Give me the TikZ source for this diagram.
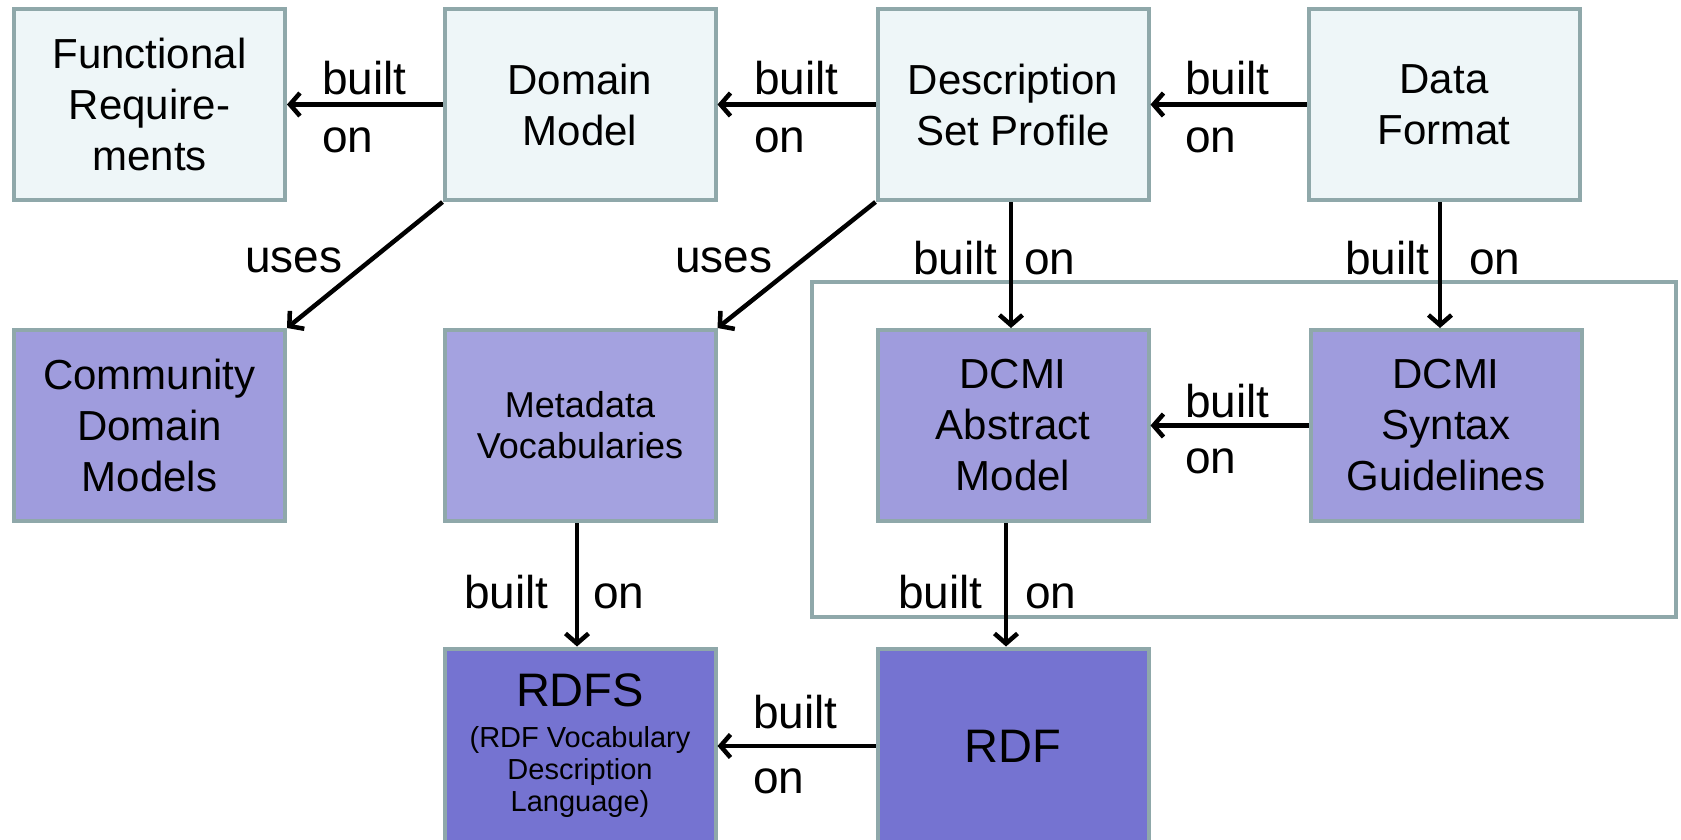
\documentclass[tikz,border=0pt]{standalone}
\usepackage{fontspec}
\setmainfont{Liberation Sans}
\usetikzlibrary{arrows.meta}
\definecolor{bordergray}{HTML}{8FA8AA}
\definecolor{palefill}{HTML}{EEF6F8}
\definecolor{midfill}{HTML}{9F9CDD}
\definecolor{lightmid}{HTML}{A4A2E0}
\definecolor{darkfill}{HTML}{7573D1}
\begin{document}
\begin{tikzpicture}[x=1pt,y=-1pt,
  box/.style={draw=bordergray,line width=4pt,minimum width=271pt,minimum height=191pt,inner sep=0pt,align=center,font=\fontsize{42}{51}\selectfont},
  topbox/.style={box,fill=palefill},
  midbox/.style={box,fill=midfill},
  darkbox/.style={box,fill=darkfill},
  arr/.style={line width=4.5pt,-{Straight Barb[length=10pt,width=23pt]}},
  lbl/.style={anchor=base west,inner sep=0pt,font=\fontsize{46}{46}\selectfont}]
\clip (0,0) rectangle (1681,840);
% container
\draw[bordergray,line width=4pt] (812,282) rectangle (1676,617);
% top row
\node[topbox] (fr) at (149.5,104.5) {Functional\\Require-\\ments};
\node[topbox] (dm) at (580,104.5) {Domain\\Model};
\node[topbox] (dsp) at (1013,104.5) {Description\\Set Profile};
\node[topbox] (df) at (1444,104.5) {Data\\Format};
% second row
\node[midbox] (cdm) at (149.5,425.5) {Community\\Domain\\Models};
\node[midbox,fill=lightmid,font=\fontsize{36}{41}\selectfont] (mv) at (580,425.5) {Metadata\\Vocabularies};
\node[midbox] (dam) at (1013,425.5) {DCMI\\Abstract\\Model};
\node[midbox] (dsg) at (1446,425.5) {DCMI\\Syntax\\Guidelines};
% third row
\node[darkbox,minimum height=195pt,font=\fontsize{29}{32}\selectfont] (rdfs) at (580,746) {{\fontsize{47}{47}\selectfont RDFS}\\[9pt](RDF Vocabulary\\Description\\Language)};
\node[darkbox,minimum height=195pt,font=\fontsize{47}{50}\selectfont] (rdf) at (1013,746) {RDF};
% connectors
\draw[arr] (dm.west) -- (fr.east);
\draw[arr] (dsp.west) -- (dm.east);
\draw[arr] (df.west) -- (dsp.east);
\draw[arr] (dm.south west) -- (cdm.north east);
\draw[arr] (dsp.south west) -- (mv.north east);
\draw[arr] ([xshift=-2pt]dsp.south) -- ([xshift=-2pt]dam.north);
\draw[arr] ([xshift=-4pt]df.south) -- ([xshift=-4pt]df.south |- dsg.north);
\draw[arr] (dsg.west) -- (dam.east);
\draw[arr] ([xshift=-7pt]dam.south) -- ([xshift=-7pt]rdf.north);
\draw[arr] ([xshift=-3pt]mv.south) -- ([xshift=-3pt]rdfs.north);
\draw[arr] (rdf.west) -- (rdfs.east);
% labels
\node[lbl] (l1a) at (322,95) {built};
\node[lbl] (l1b) at (322,153) {on};
\node[lbl] (l2a) at (754,95) {built};
\node[lbl] (l2b) at (754,153) {on};
\node[lbl] (l3a) at (1185,95) {built};
\node[lbl] (l3b) at (1185,153) {on};
\node[lbl] (u1) at (245,272) {uses};
\node[lbl] (u2) at (675,272) {uses};
\node[lbl] (l4a) at (913,274) {built};
\node[lbl] (l4b) at (1024,274) {on};
\node[lbl] (l5a) at (1345,274) {built};
\node[lbl] (l5b) at (1469,274) {on};
\node[lbl] (l6a) at (1185,417) {built};
\node[lbl] (l6b) at (1185,473) {on};
\node[lbl] (l7a) at (898,608) {built};
\node[lbl] (l7b) at (1025,608) {on};
\node[lbl] (l8a) at (464,608) {built};
\node[lbl] (l8b) at (593,608) {on};
\node[lbl] (l9a) at (753,728) {built};
\node[lbl] (l9b) at (753,793) {on};
\end{tikzpicture}
\end{document}
